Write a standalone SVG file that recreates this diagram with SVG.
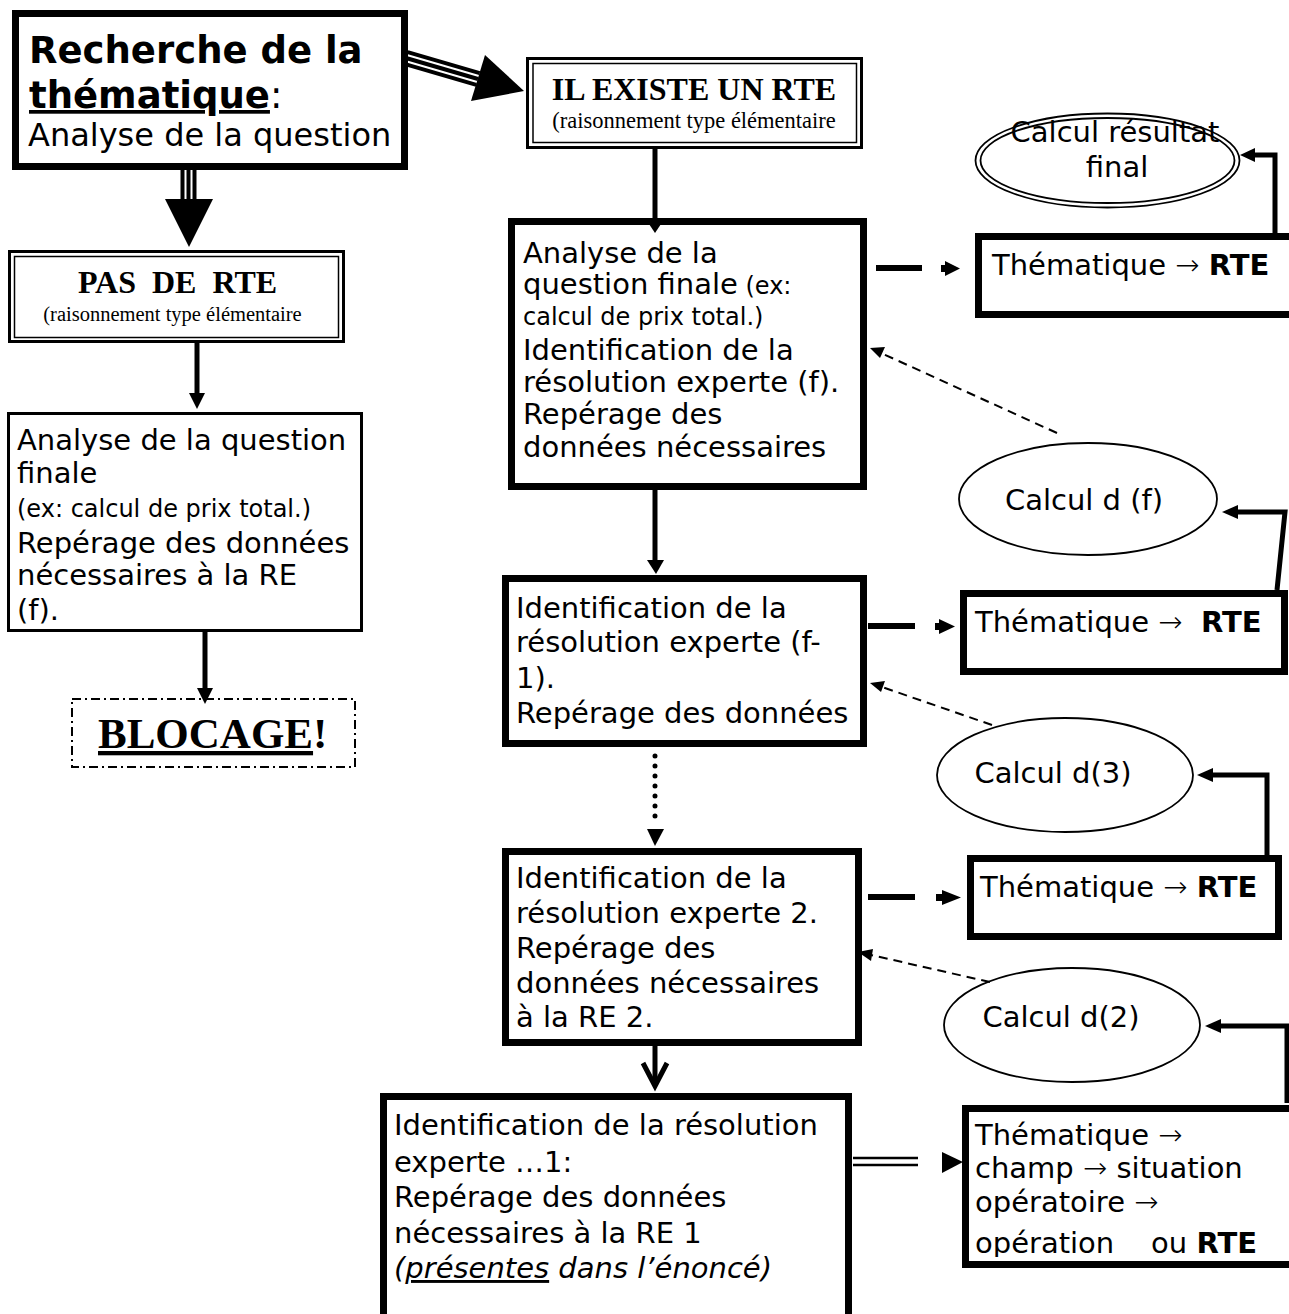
<svg xmlns="http://www.w3.org/2000/svg" width="1289" height="1314" viewBox="0 0 1289 1314">
  <style>
    .sans { font-family: "DejaVu Sans", Verdana, sans-serif; fill: #000; }
    .serif { font-family: "Liberation Serif", "Times New Roman", serif; fill: #000; }
    .arrow { font-weight: 200; }
    .body { font-size: 29px; }
    .small { font-size: 24px; }
    .box { fill: #fff; stroke: #000; }
    .thick { stroke-width: 7; }
    .ell { fill: #fff; stroke: #000; stroke-width: 1.8; }
    .conn { fill: none; stroke: #000; stroke-width: 5; }
    .dash { fill: none; stroke: #000; stroke-width: 2; stroke-dasharray: 9 6; }
    .head { fill: #000; stroke: none; }
  </style>
  <defs>
    <clipPath id="clip-t4">
      <rect x="968" y="1110" width="330" height="147"/>
    </clipPath>
  </defs>

  <rect width="1289" height="1314" fill="#fff"/>

  <!-- left column -->
  <g id="recherche">
    <rect class="box thick" x="15.5" y="13.5" width="389" height="153"/>
    <text class="sans" x="29" y="63" font-size="37" font-weight="bold">Recherche de la</text>
    <text class="sans" x="29" y="108" font-size="37"><tspan font-weight="bold" text-decoration="underline">thématique</tspan>:</text>
    <text class="sans" x="28" y="146" font-size="32">Analyse de la question</text>
  </g>

  <g id="pas-de-rte">
    <rect class="box" x="9.5" y="251.5" width="334" height="90" stroke-width="3"/>
    <rect x="14.5" y="256.5" width="324" height="81" fill="none" stroke="#000" stroke-width="1.5"/>
    <text class="serif" x="177.5" y="293" font-size="32" font-weight="bold" text-anchor="middle" xml:space="preserve">PAS  DE  RTE</text>
    <text class="serif" x="172.5" y="321" font-size="20.5" text-anchor="middle">(raisonnement type élémentaire</text>
  </g>

  <g id="analyse-sans-rte">
    <rect class="box" x="8.5" y="413.5" width="353" height="217" stroke-width="3"/>
    <text class="sans body" x="17" y="450">Analyse de la question</text>
    <text class="sans body" x="17" y="483">finale</text>
    <text class="sans small" x="17" y="517">(ex: calcul de prix total.)</text>
    <text class="sans body" x="17" y="553">Repérage des données</text>
    <text class="sans body" x="17" y="585">nécessaires à la RE</text>
    <text class="sans body" x="17" y="620">(f).</text>
  </g>

  <g id="blocage">
    <rect x="72" y="699" width="283" height="68" fill="#fff" stroke="#000" stroke-width="2" stroke-dasharray="9 4 2 4"/>
    <text class="serif" x="98" y="748" font-size="43" font-weight="bold"><tspan text-decoration="underline">BLOCAGE</tspan>!</text>
  </g>

  <!-- central column -->
  <g id="il-existe">
    <rect class="box" x="527.5" y="58.5" width="334" height="89" stroke-width="3"/>
    <rect x="533" y="63.5" width="323.5" height="79" fill="none" stroke="#000" stroke-width="1.5"/>
    <text class="serif" x="694" y="100" font-size="32" font-weight="bold" text-anchor="middle">IL EXISTE UN RTE</text>
    <text class="serif" x="694" y="128" font-size="22.5" text-anchor="middle">(raisonnement type élémentaire</text>
  </g>

  <g id="etape-finale">
    <rect class="box thick" x="511.5" y="221.5" width="352" height="265"/>
    <text class="sans body" x="523" y="263">Analyse de la</text>
    <text class="sans body" x="523" y="294">question finale<tspan class="small"> (ex:</tspan></text>
    <text class="sans small" x="523" y="325">calcul de prix total.)</text>
    <text class="sans body" x="523" y="360">Identification de la</text>
    <text class="sans body" x="523" y="392">résolution experte (f).</text>
    <text class="sans body" x="523" y="424">Repérage des</text>
    <text class="sans body" x="523" y="457">données nécessaires</text>
  </g>

  <g id="etape-f-1">
    <rect class="box thick" x="505.5" y="578.5" width="358" height="165"/>
    <text class="sans body" x="516" y="618">Identification de la</text>
    <text class="sans body" x="516" y="652">résolution experte (f-</text>
    <text class="sans body" x="516" y="688">1).</text>
    <text class="sans body" x="516" y="723">Repérage des données</text>
  </g>

  <g id="etape-2">
    <rect class="box thick" x="505.5" y="851.5" width="353" height="191"/>
    <text class="sans body" x="516" y="888">Identification de la</text>
    <text class="sans body" x="516" y="923">résolution experte 2.</text>
    <text class="sans body" x="516" y="958">Repérage des</text>
    <text class="sans body" x="516" y="993">données nécessaires</text>
    <text class="sans body" x="516" y="1027">à la RE 2.</text>
  </g>

  <g id="etape-1">
    <rect class="box thick" x="383.5" y="1096.5" width="465" height="300"/>
    <text class="sans body" x="394" y="1135">Identification de la résolution</text>
    <text class="sans body" x="394" y="1172">experte …1:</text>
    <text class="sans body" x="394" y="1207">Repérage des données</text>
    <text class="sans body" x="394" y="1243">nécessaires à la RE 1</text>
    <text class="sans body" x="394" y="1278" font-style="italic">(<tspan text-decoration="underline">présentes</tspan> dans l’énoncé)</text>
  </g>

  <!-- right column -->
  <g id="calcul-final">
    <ellipse class="ell" cx="1107.5" cy="160.5" rx="132" ry="47"/>
    <ellipse class="ell" cx="1107.5" cy="160.5" rx="127" ry="42.5"/>
    <text class="sans body" x="1115" y="142" text-anchor="middle">Calcul résultat</text>
    <text class="sans body" x="1117" y="177" text-anchor="middle">final</text>
  </g>

  <g id="thematique-f">
    <rect class="box thick" x="978.5" y="236.5" width="330" height="78"/>
    <text class="sans body" x="992" y="275">Thématique <tspan class="arrow">→</tspan> <tspan font-weight="bold">RTE</tspan></text>
  </g>

  <g id="calcul-df">
    <ellipse class="ell" cx="1088" cy="499" rx="129" ry="56"/>
    <text class="sans body" x="1084" y="510" text-anchor="middle">Calcul d (f)</text>
  </g>

  <g id="thematique-f-1">
    <rect class="box thick" x="963.5" y="593.5" width="321" height="78"/>
    <text class="sans body" x="975" y="632" xml:space="preserve">Thématique <tspan class="arrow">→</tspan>  <tspan font-weight="bold">RTE</tspan></text>
  </g>

  <g id="calcul-d3">
    <ellipse class="ell" cx="1065" cy="775" rx="128" ry="57"/>
    <text class="sans body" x="1053" y="783" text-anchor="middle">Calcul d(3)</text>
  </g>

  <g id="thematique-2">
    <rect class="box thick" x="970.5" y="858.5" width="308" height="78"/>
    <text class="sans body" x="980" y="897">Thématique <tspan class="arrow">→</tspan> <tspan font-weight="bold">RTE</tspan></text>
  </g>

  <g id="calcul-d2">
    <ellipse class="ell" cx="1072" cy="1025" rx="128" ry="57"/>
    <text class="sans body" x="1061" y="1027" text-anchor="middle">Calcul d(2)</text>
  </g>

  <g id="thematique-1">
    <rect class="box thick" x="965.5" y="1108.5" width="340" height="156"/>
    <g clip-path="url(#clip-t4)">
      <text class="sans body" x="975" y="1145">Thématique <tspan class="arrow">→</tspan></text>
      <text class="sans body" x="975" y="1178">champ <tspan class="arrow">→</tspan> situation</text>
      <text class="sans body" x="975" y="1212">opératoire <tspan class="arrow">→</tspan></text>
      <text class="sans body" x="975" y="1253" xml:space="preserve">opération    ou <tspan font-weight="bold">RTE</tspan></text>
    </g>
  </g>

  <!-- connectors -->
  <g id="connectors">
    <!-- triple-stroke arrow towards "IL EXISTE UN RTE" -->
    <g stroke="#000" stroke-width="4">
      <line x1="407.7" y1="52.2" x2="479.7" y2="73.2"/>
      <line x1="406" y1="58" x2="478" y2="79"/>
      <line x1="404.3" y1="63.8" x2="476.3" y2="84.8"/>
    </g>
    <polygon class="head" points="485,55 471,101 524,91"/>

    <!-- triple-stroke arrow towards "PAS DE RTE" -->
    <g stroke="#000" stroke-width="4">
      <line x1="182.5" y1="170" x2="182.5" y2="200"/>
      <line x1="188.5" y1="170" x2="188.5" y2="200"/>
      <line x1="194.5" y1="170" x2="194.5" y2="200"/>
    </g>
    <polygon class="head" points="165,199 213,199 189,247"/>

    <!-- left column plain arrows -->
    <line class="conn" x1="197" y1="343" x2="197" y2="395"/>
    <polygon class="head" points="189,393 205,393 197,409"/>
    <line class="conn" x1="205" y1="632" x2="205" y2="690"/>
    <polygon class="head" points="197,688 213,688 205,704"/>

    <!-- central column arrows -->
    <line class="conn" x1="655" y1="148" x2="655" y2="223"/>
    <polygon class="head" points="647,221 663,221 655,233"/>
    <line class="conn" x1="655" y1="490" x2="655" y2="562"/>
    <polygon class="head" points="647,560 664,560 656,574"/>
    <line x1="655" y1="756" x2="655" y2="824" stroke="#000" stroke-width="5" stroke-linecap="round" stroke-dasharray="0 10"/>
    <polygon class="head" points="647,829 664,829 655,846"/>
    <line class="conn" x1="655" y1="1040" x2="655" y2="1086"/>
    <polyline class="conn" points="643,1063 655,1086 667,1063"/>

    <!-- thick dashed arrows towards the "Thématique" boxes -->
    <line x1="876" y1="268" x2="922" y2="268" stroke="#000" stroke-width="6"/>
    <polygon class="head" points="941,265 945,265 945,261 960,268.5 945,276 945,272 941,272"/>
    <line x1="868" y1="626" x2="915" y2="626" stroke="#000" stroke-width="6"/>
    <polygon class="head" points="935,623 939,623 939,619 955,626.5 939,634 939,630 935,630"/>
    <line x1="868" y1="897" x2="915" y2="897" stroke="#000" stroke-width="6"/>
    <polygon class="head" points="936,894 942,894 942,890 961,897.5 942,905 942,901 936,901"/>

    <!-- double-stroke arrow from the last step -->
    <g stroke="#000" stroke-width="2.5">
      <line x1="853" y1="1158" x2="918" y2="1158"/>
      <line x1="853" y1="1165" x2="918" y2="1165"/>
    </g>
    <polygon class="head" points="942,1152 963,1162 942,1173"/>

    <!-- return arrows towards the "Calcul" ellipses -->
    <polyline class="conn" points="1275,233 1275,155 1252,155"/>
    <polygon class="head" points="1255,148 1255,162 1240,155"/>
    <polyline class="conn" points="1277,590 1285,512 1235,512"/>
    <polygon class="head" points="1238,505 1238,519 1222,512"/>
    <polyline class="conn" points="1267,855 1267,775 1210,775"/>
    <polygon class="head" points="1213,768 1213,782 1197,775"/>
    <polyline class="conn" points="1287,1103 1287,1026 1218,1026"/>
    <polygon class="head" points="1221,1019 1221,1033 1205,1026"/>

    <!-- dashed feedback arrows -->
    <line class="dash" x1="1057" y1="433" x2="881" y2="353"/>
    <polygon class="head" points="870,348 885,347 880,358"/>
    <line class="dash" x1="992" y1="725" x2="882" y2="687"/>
    <polygon class="head" points="870,683 885,681 881,692"/>
    <line class="dash" x1="990" y1="982" x2="871" y2="955"/>
    <polygon class="head" points="858,952 873,949 871,961"/>
  </g>
</svg>
